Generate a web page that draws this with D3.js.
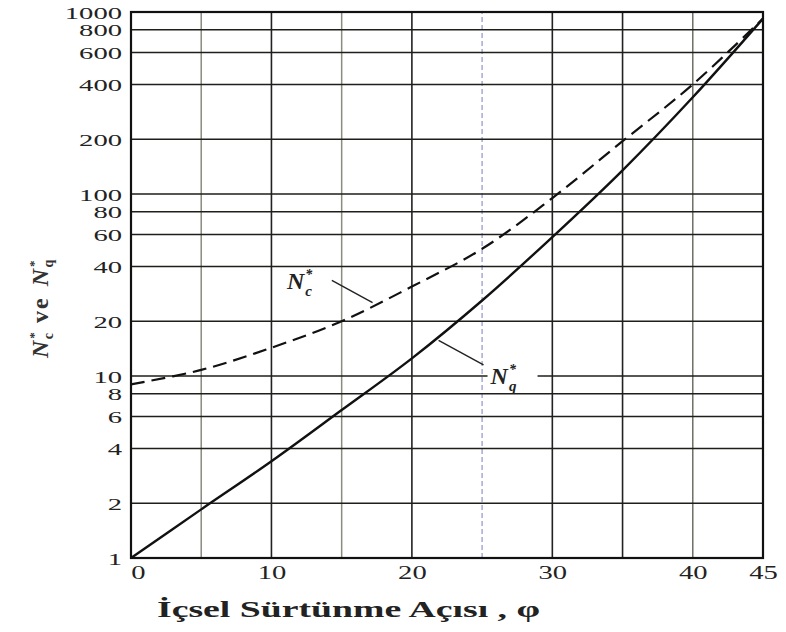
<!DOCTYPE html>
<html>
<head>
<meta charset="utf-8">
<script src="https://cdn.jsdelivr.net/npm/d3@7"></script>
<style>
  body { margin: 0; background: #fff; }
  svg { display: block; font-family: "Liberation Serif", "DejaVu Serif", serif; }
</style>
</head>
<body>
<div class="chart"></div>
<script>
// friction angle (deg) and bearing capacity factors
const phi = [0, 5, 10, 15, 20, 25, 30, 35, 40, 45];
const ncStar = [9.0, 10.8, 14.3, 20, 31, 50, 95, 195, 400, 920];
const nqStar = [1, 1.85, 3.4, 6.5, 12.5, 26, 58, 135, 340, 920];

const yTicks = [1, 2, 4, 6, 8, 10, 20, 40, 60, 80, 100, 200, 400, 600, 800, 1000];
const xTicks = [0, 10, 20, 30, 40, 45];
const xGrid = [5, 10, 15, 20, 25, 30, 35, 40];

const width = 786, height = 632;
const margin = { top: 12, right: 23, bottom: 74, left: 131 };

const x = d3.scaleLinear()
    .domain([0, 45])
    .range([margin.left, width - margin.right]);

const y = d3.scaleLog()
    .domain([1, 1000])
    .range([height - margin.bottom, margin.top]);

const svg = d3.select(".chart").append("svg")
    .attr("width", width)
    .attr("height", height);

svg.append("rect").attr("width", width).attr("height", height).attr("fill", "#fff");

// grid lines
const gridStyle = d => {
    if (d === 25) return { c: "#aab0d6", w: 1.6, dash: "5,3" };
    if (d === 5 || d === 15) return { c: "#8a8a80", w: 1.5, dash: null };
    if (d === 40) return { c: "#6f6f68", w: 1.5, dash: null };
    return { c: "#222", w: 1.6, dash: null };
};

svg.append("g")
    .selectAll("line")
    .data(xGrid)
    .join("line")
    .attr("x1", d => x(d)).attr("x2", d => x(d))
    .attr("y1", y(1)).attr("y2", y(1000))
    .attr("stroke", d => gridStyle(d).c)
    .attr("stroke-width", d => gridStyle(d).w)
    .attr("stroke-dasharray", d => gridStyle(d).dash);

svg.append("g")
    .selectAll("line")
    .data(yTicks)
    .join("line")
    .attr("x1", x(0)).attr("x2", x(45))
    .attr("y1", d => y(d)).attr("y2", d => y(d))
    .attr("stroke", "#1e1e1a")
    .attr("stroke-width", 1.5);

// frame
svg.append("rect")
    .attr("x", x(0)).attr("y", y(1000))
    .attr("width", x(45) - x(0)).attr("height", y(1) - y(1000))
    .attr("fill", "none")
    .attr("stroke", "#111")
    .attr("stroke-width", 2.2);

// y axis labels (stretched wide as in the scan)
const yAxis = g => g
    .attr("transform", `translate(${x(0) - 9},0)`)
    .call(d3.axisLeft(y).tickValues(yTicks).tickSize(0).tickFormat(d3.format("d")))
    .call(g => g.select(".domain").remove())
    .call(g => g.selectAll("text")
        .attr("x", 0)
        .attr("dy", "0.36em")
        .attr("fill", "#222")
        .attr("font-family", "Liberation Serif, serif")
        .attr("font-size", 17)
        .attr("textLength", d => String(d).length * 14.3)
        .attr("lengthAdjust", "spacingAndGlyphs"));

svg.append("g").call(yAxis);

const xAxis = g => g
    .attr("transform", `translate(0,${y(1) + 4})`)
    .call(d3.axisBottom(x).tickValues(xTicks).tickSize(0).tickFormat(d3.format("d")))
    .call(g => g.select(".domain").remove())
    .call(g => g.selectAll("text")
        .attr("x", d => d === 0 ? 7 : 0)
        .attr("y", 0)
        .attr("dy", "0.95em")
        .attr("fill", "#222")
        .attr("font-family", "Liberation Serif, serif")
        .attr("font-size", 18)
        .attr("textLength", d => String(d).length * 14.3)
        .attr("lengthAdjust", "spacingAndGlyphs"));

svg.append("g").call(xAxis);

// curves
const line = d3.line()
    .x((d, i) => x(phi[i]))
    .y(d => y(d))
    .curve(d3.curveCatmullRom.alpha(0.5));

svg.append("path")
    .datum(ncStar)
    .attr("d", line)
    .attr("fill", "none")
    .attr("stroke", "#111")
    .attr("stroke-width", 2.2)
    .attr("stroke-dasharray", "14,7");

svg.append("path")
    .datum(nqStar)
    .attr("d", line)
    .attr("fill", "none")
    .attr("stroke", "#111")
    .attr("stroke-width", 2.4);

// curve labels with leader lines
const labels = [
    { sub: "c", tx: 11.1, tv: 30, l0: [14.3, 33.5], l1: [17.2, 25.3], bg: false },
    { sub: "q", tx: 25.6, tv: 9.0, l0: [21.9, 15.7], l1: [25.1, 11.5], bg: true }
];

labels.forEach(l => {
    svg.append("line")
        .attr("x1", x(l.l0[0])).attr("y1", y(l.l0[1]))
        .attr("x2", x(l.l1[0])).attr("y2", y(l.l1[1]))
        .attr("stroke", "#222").attr("stroke-width", 1.4);
    if (l.bg) {
        svg.append("rect")
            .attr("x", x(l.tx) - 3).attr("y", y(l.tv) - 24)
            .attr("width", 50).attr("height", 32)
            .attr("fill", "#fff");
    }
    const t = svg.append("text")
        .attr("x", x(l.tx)).attr("y", y(l.tv))
        .attr("font-family", "Liberation Serif, serif")
        .attr("font-style", "italic")
        .attr("font-weight", "bold")
        .attr("font-size", 24)
        .attr("fill", "#222");
    t.append("tspan").text("N");
    t.append("tspan").attr("font-size", 14).attr("dy", -10).attr("dx", 1).text("*");
    t.append("tspan").attr("font-size", 15).attr("dy", 17).attr("dx", -7).text(l.sub);
});

// axis titles
svg.append("text")
    .attr("x", 157).attr("y", 617)
    .attr("font-family", "Liberation Serif, serif")
    .attr("font-weight", "bold")
    .attr("font-size", 24)
    .attr("fill", "#222")
    .attr("textLength", 383)
    .attr("lengthAdjust", "spacingAndGlyphs")
    .text("İçsel Sürtünme Açısı , φ");

const yt = svg.append("text")
    .attr("transform", "translate(48,358) rotate(-90)")
    .attr("font-family", "Liberation Serif, serif")
    .attr("font-weight", "bold")
    .attr("font-size", 24)
    .attr("fill", "#333");
yt.append("tspan").attr("font-style", "italic").text("N");
yt.append("tspan").attr("font-size", 13).attr("dy", -10).attr("dx", 2).text("*");
yt.append("tspan").attr("font-size", 14).attr("dy", 15).attr("dx", -7).text("c");
yt.append("tspan").attr("dy", -5).attr("dx", 10).attr("letter-spacing", 2).text("ve");
yt.append("tspan").attr("font-style", "italic").attr("dx", 10).text("N");
yt.append("tspan").attr("font-size", 13).attr("dy", -10).attr("dx", 2).text("*");
yt.append("tspan").attr("font-size", 14).attr("dy", 15).attr("dx", -7).text("q");
</script>
</body>
</html>
